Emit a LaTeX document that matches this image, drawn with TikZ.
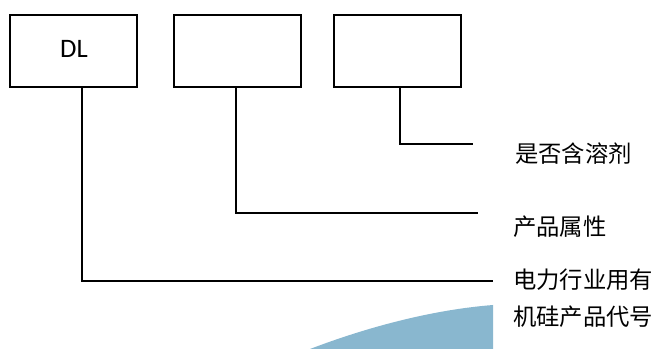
\documentclass[tikz,border=0pt]{standalone}
\usepackage{fontspec}
\setmainfont{Carlito}
\newfontfamily\cjk{Noto Sans CJK SC}
\begin{document}
\begin{tikzpicture}[x=0.75pt,y=-0.75pt,
  codebox/.style={draw=black,line width=1.5pt,minimum width=95.25pt,minimum height=54pt,inner sep=0pt},
  conn/.style={draw=black,line width=1.5pt},
  lbl/.style={anchor=west,inner sep=0pt,font=\cjk\fontsize{17.5}{20}\selectfont}]
\useasboundingbox (0,0) rectangle (662,349);
% blue shape
\fill[color={rgb,255:red,137;green,183;blue,207}] (310,349) .. controls (365,328) and (430,310) .. (493,305) -- (493,349) -- cycle;
% boxes
\node[codebox] (b1) at (73.5,51) {};
\node[codebox] (b2) at (237.5,51) {};
\node[codebox] (b3) at (397.5,51) {};
\node[font=\fontsize{20}{22}\selectfont] (dl) at (74,49) {DL};
% labels
\node[lbl] (l3) at (515,154) {是否含溶剂};
\node[lbl] (l2) at (513,227) {产品属性};
\node[lbl] (l1a) at (513,280) {电力行业用有};
\node[lbl] (l1b) at (513,317) {机硅产品代号};
% connector points
\coordinate (t1) at (82,87);
\coordinate (t2) at (236,87);
\coordinate (t3) at (400,87);
\coordinate (e1) at (493,281);
\coordinate (e2) at (478,213);
\coordinate (e3) at (473,144);
\draw[conn] (t1) |- (e1);
\draw[conn] (t2) |- (e2);
\draw[conn] (t3) |- (e3);
\end{tikzpicture}
\end{document}
